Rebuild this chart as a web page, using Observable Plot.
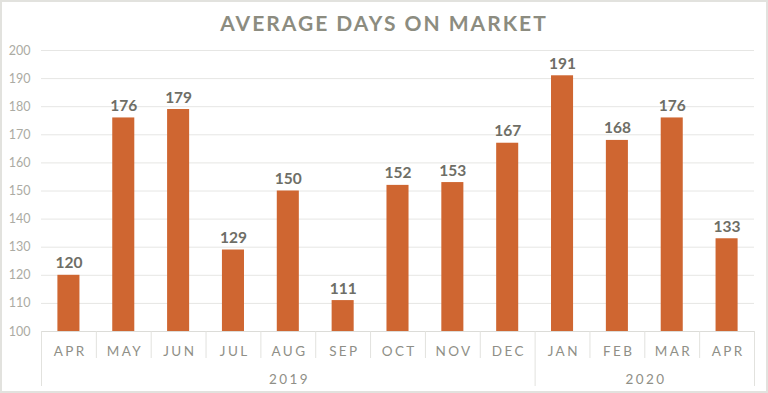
<!DOCTYPE html>
<html>
<head>
<meta charset="utf-8">
<script src="https://cdn.jsdelivr.net/npm/d3@7"></script>
<script src="https://cdn.jsdelivr.net/npm/@observablehq/plot@0.6"></script>
<style>
  html, body { margin: 0; padding: 0; background: #fff; }
  #wrap { position: relative; width: 768px; height: 393px; overflow: hidden; background: #fff; }
  #title { position: absolute; top: 9px; left: 0; width: 768px; text-align: center;
           font-family: Lato, sans-serif; font-weight: 700; font-size: 21px; letter-spacing: 2px;
           color: #8c8c80; line-height: 28px; }
  #chart { position: absolute; top: 0; left: 0; }
  #border { position: absolute; inset: 0; border: 2px solid #e2e2de; pointer-events: none; }
  .spaced text { letter-spacing: 2.4px; }
</style>
</head>
<body>
<div id="wrap">
  <div id="chart"></div>
  <div id="title">AVERAGE DAYS ON MARKET</div>
  <div id="border"></div>
</div>
<script>
const months = ["APR","MAY","JUN","JUL","AUG","SEP","OCT","NOV","DEC","JAN","FEB","MAR","APR"];
const values = [120,176,179,129,150,111,152,153,167,191,168,176,133];
const years = ["2019","2020"];
const yearCounts = [9,4];
const yTicks = [100,110,120,130,140,150,160,170,180,190,200];

const data = months.map((m, i) => ({i, month: m, value: values[i]}));
let start = 0;
const yearData = years.map((y, k) => { const d = {year: y, start, end: start + yearCounts[k]}; start += yearCounts[k]; return d; });
const monthSeps = d3.range(1, months.length).filter(i => !yearData.some(y => y.start === i));
const yearSeps = [0, ...yearData.map(y => y.end)];

const bar = "#cf6631";
const plot = Plot.plot({
  width: 768,
  height: 393,
  marginTop: 50,
  marginBottom: 62,
  marginLeft: 41,
  marginRight: 14,
  style: {fontFamily: "Lato, sans-serif", background: "transparent"},
  x: {type: "linear", domain: [0, months.length], axis: null},
  y: {domain: [100, 200], axis: null},
  marks: [
    Plot.ruleY(yTicks.slice(1), {stroke: "#e6e6e4", strokeWidth: 1}),
    Plot.text(yTicks, {x: 0, y: d => d, text: d => String(d), textAnchor: "end", dx: -11,
      fill: "#ababa3", fontSize: 12.5}),
    Plot.rectY(data, {x1: "i", x2: d => d.i + 1, y1: 100, y2: "value", fill: bar, insetLeft: 16.4, insetRight: 16.4}),
    Plot.ruleY([100], {stroke: "#dcdcd8", strokeWidth: 1}),
    Plot.ruleX(monthSeps, {x: d => d, y1: 100, y2: 100, insetBottom: -27, stroke: "#e2e2de", strokeWidth: 1}),
    Plot.ruleX(yearSeps, {x: d => d, y1: 100, y2: 100, insetBottom: -55, stroke: "#e2e2de", strokeWidth: 1}),
    Plot.text(data, {x: d => d.i + 0.5, y: 100, text: "month", dy: 20, fill: "#8f8f87", fontSize: 13.5,
      className: "spaced", dx: 1.2}),
    Plot.text(yearData, {x: d => (d.start + d.end) / 2, y: 100, text: "year", dy: 48, fill: "#8f8f87", fontSize: 13.5,
      className: "spaced", dx: 1.2}),
    Plot.text(data, {x: d => d.i + 0.5, y: "value", text: d => String(d.value), lineAnchor: "bottom", dy: -7,
      fill: "#6e6e66", fontSize: 15.5, fontWeight: "bold"})
  ]
});
document.getElementById("chart").appendChild(plot);
</script>
</body>
</html>
